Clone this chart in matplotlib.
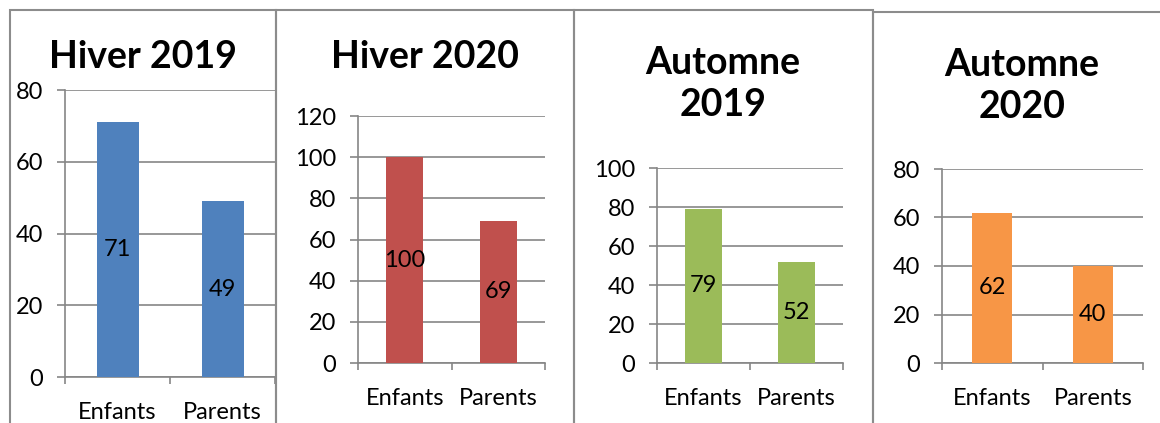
import matplotlib.pyplot as plt
from matplotlib.patches import Rectangle

plt.rcParams['font.family'] = ['Lato', 'DejaVu Sans']

# Data
categories = ['Enfants', 'Parents']
titles = ['Hiver 2019', 'Hiver 2020', 'Automne\n2019', 'Automne\n2020']
values = [[71, 49], [100, 69], [79, 52], [62, 40]]
ymax = [80, 120, 100, 80]
colors = ['#4F81BD', '#C0504D', '#9BBB59', '#F79646']

W, H = 1160, 423
fig = plt.figure(figsize=(W / 100, H / 100), dpi=100)

def fx(x):
    return x / W

def fy(y):
    return 1 - y / H

# panel frames (pixels): left, right, top
panels = [(10, 276, 10), (276, 574, 10), (574, 873, 10), (873, 1175, 12)]
# plot areas (pixels): left, right, top, bottom
areas = [(65, 275, 90, 377), (358, 545, 116, 363), (657, 843, 168, 363), (942, 1143, 169, 363)]
title_x = [143, 425, 723, 1022]
title_y = [57, 57, 84, 86]

grid_col = '#868686'

for i in range(4):
    l, r, t = panels[i]
    fig.patches.append(Rectangle((fx(l), fy(440)), fx(r - l), (440 - t) / H,
                                 transform=fig.transFigure, fill=False,
                                 edgecolor='#8C8C8C', linewidth=1.5))
    al, ar, at, ab = areas[i]
    ax = fig.add_axes([fx(al), fy(ab), fx(ar - al), (ab - at) / H])
    x = range(len(categories))
    ax.bar(x, values[i], width=0.4, color=colors[i], zorder=3)
    for xi, v in zip(x, values[i]):
        ax.text(xi, v / 2, str(v), ha='center', va='center', fontsize=17, zorder=4)
    ax.set_xlim(-0.5, 1.5)
    ax.set_ylim(0, ymax[i])
    ax.set_yticks(range(0, ymax[i] + 1, 20))
    ax.grid(axis='y', color=grid_col, linewidth=1.2, zorder=0)
    ax.set_xticks([0, 1])
    ax.set_xticklabels(categories, fontsize=17)
    ax.set_xticks([-0.5, 0.5, 1.5], minor=True)
    ax.tick_params(axis='x', which='major', length=0, pad=18)
    ax.tick_params(axis='x', which='minor', length=5, color=grid_col, width=1.2)
    ax.tick_params(axis='y', length=6, color=grid_col, width=1.2, labelsize=17, pad=10)
    for s in ['top', 'right']:
        ax.spines[s].set_visible(False)
    for s in ['left', 'bottom']:
        ax.spines[s].set_color(grid_col)
        ax.spines[s].set_linewidth(1.2)
    fig.text(fx(title_x[i]), fy(title_y[i]), titles[i], ha='center', va='center',
             fontsize=27, fontweight='bold', linespacing=1.3)

fig.savefig('out.png', dpi=100)
